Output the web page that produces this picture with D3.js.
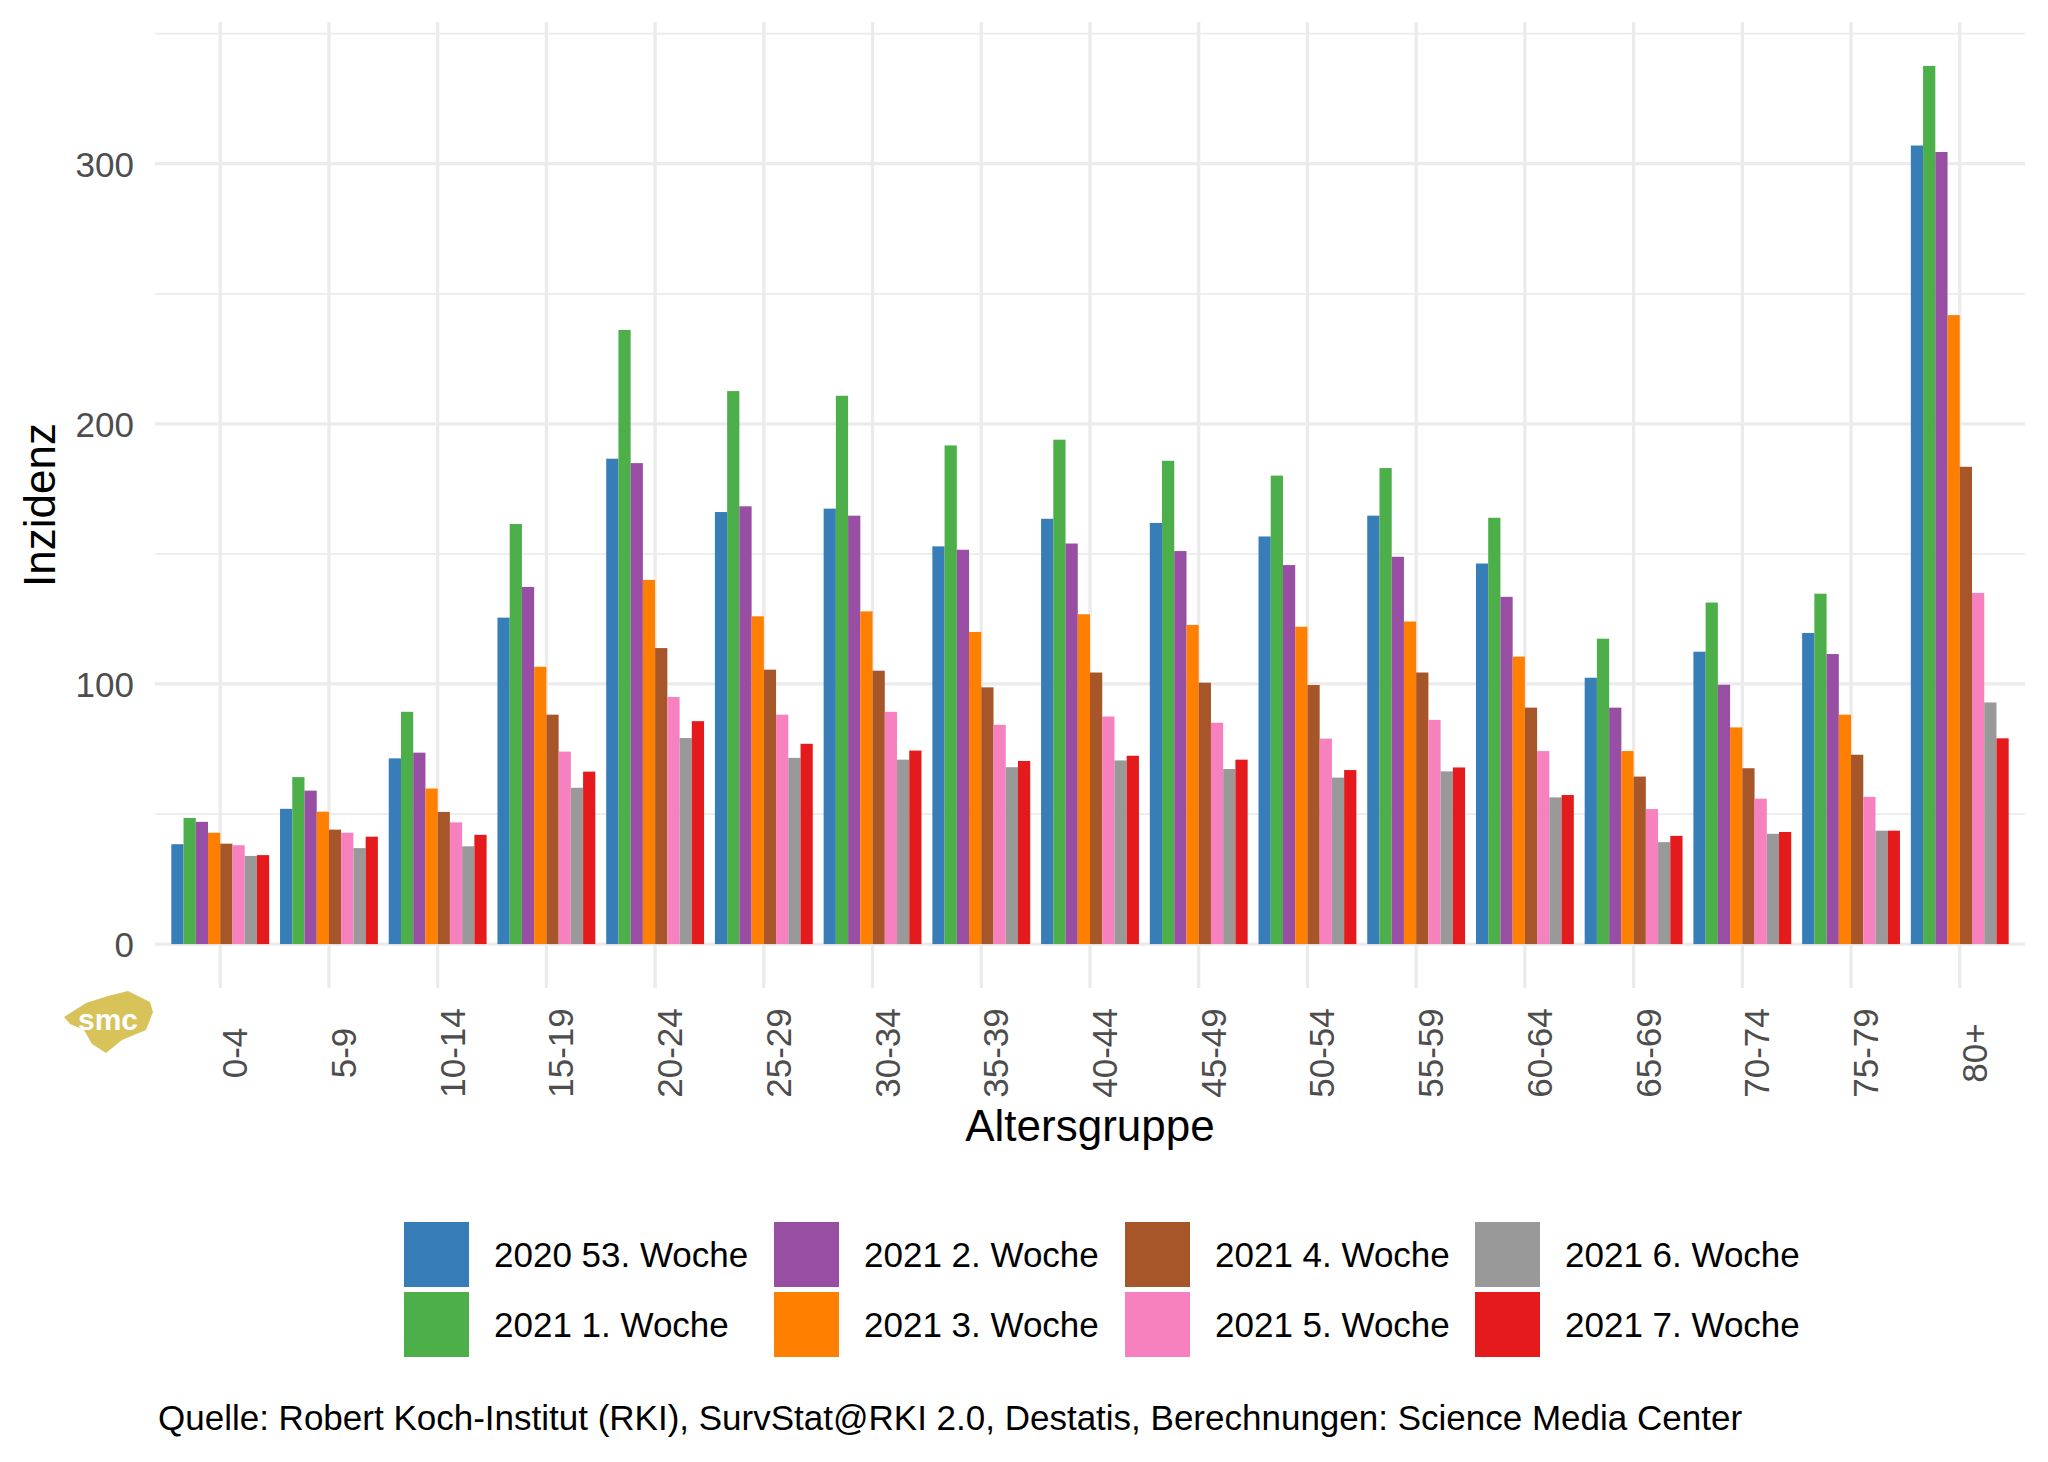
<!DOCTYPE html>
<html>
<head>
<meta charset="utf-8">
<title>Inzidenz nach Altersgruppe</title>
<script src="https://d3js.org/d3.v7.min.js"></script>
<style>
    body { margin: 0; background: #fff; }
    text { font-family: "Liberation Sans", Arial, Helvetica, sans-serif; }
</style>
</head>
<body>
<svg width="2048" height="1462"></svg>
<script>
// age groups (x axis)
var groups = ["0-4","5-9","10-14","15-19","20-24","25-29","30-34","35-39","40-44",
              "45-49","50-54","55-59","60-64","65-69","70-74","75-79","80+"];

var weeks = ["2020 53. Woche","2021 1. Woche","2021 2. Woche","2021 3. Woche",
             "2021 4. Woche","2021 5. Woche","2021 6. Woche","2021 7. Woche"];

var colors = ["#377EB8","#4DAF4A","#984EA3","#FF7F00","#A65628","#F781BF","#999999","#E41A1C"];

// incidence per week, one value per age group
var w2020_53 = [38.4, 52.0, 71.4, 125.5, 186.6, 166.1, 167.4, 152.9, 163.5, 161.9, 156.7, 164.7, 146.3, 102.4, 112.4, 119.6, 307.0];
var w2021_1  = [48.5, 64.2, 89.3, 161.5, 236.1, 212.6, 210.8, 191.7, 193.9, 185.8, 180.1, 183.0, 163.9, 117.4, 131.3, 134.7, 337.6];
var w2021_2  = [47.0, 59.0, 73.6, 137.3, 184.9, 168.3, 164.7, 151.6, 154.0, 151.1, 145.7, 148.9, 133.5,  90.9,  99.7, 111.5, 304.5];
var w2021_3  = [42.8, 50.9, 59.8, 106.6, 140.0, 126.0, 127.9, 120.0, 126.8, 122.7, 122.0, 124.0, 110.5,  74.2,  83.3,  88.2, 241.8];
var w2021_4  = [38.6, 44.0, 50.8,  88.2, 113.8, 105.5, 105.1,  98.7, 104.4, 100.5,  99.6, 104.4,  90.9,  64.4,  67.6,  72.8, 183.5];
var w2021_5  = [38.0, 42.8, 46.8,  74.0,  95.0,  88.2,  89.3,  84.3,  87.5,  85.1,  79.0,  86.2,  74.2,  51.9,  55.9,  56.6, 135.0];
var w2021_6  = [33.9, 36.9, 37.6,  60.1,  79.2,  71.6,  70.9,  68.0,  70.6,  67.3,  64.0,  66.4,  56.4,  39.2,  42.4,  43.6,  92.9];
var w2021_7  = [34.2, 41.3, 42.0,  66.3,  85.7,  77.0,  74.4,  70.4,  72.4,  70.9,  66.9,  67.9,  57.3,  41.6,  43.1,  43.6,  79.1];

var majorTicks = [0, 100, 200, 300];
var minorTicks = [50, 150, 250, 350];

var series = [w2020_53, w2021_1, w2021_2, w2021_3, w2021_4, w2021_5, w2021_6, w2021_7];

var svg = d3.select("svg");
svg.append("rect").attr("width", 2048).attr("height", 1462).attr("fill", "#fff");

var pLeft = 155, pRight = 2025, pTop = 22, pBottom = 988;
var grey = "#ebebeb";

var maxV = d3.max(series, function(s){ return d3.max(s); });

var x = d3.scalePoint().domain(groups).range([pLeft, pRight]).padding(0.6);
var step = x.step();
var xInner = d3.scaleBand().domain(weeks).range([-0.45 * step, 0.45 * step]);
var y = d3.scaleLinear().domain([-0.05 * maxV, 1.05 * maxV]).range([pBottom, pTop]);

// grid
var grid = svg.append("g");
grid.selectAll(".minor").data(minorTicks).enter().append("line")
    .attr("x1", pLeft).attr("x2", pRight)
    .attr("y1", function(d){ return y(d); }).attr("y2", function(d){ return y(d); })
    .attr("stroke", grey).attr("stroke-width", 1.7);
grid.selectAll(".major").data(majorTicks).enter().append("line")
    .attr("x1", pLeft).attr("x2", pRight)
    .attr("y1", function(d){ return y(d); }).attr("y2", function(d){ return y(d); })
    .attr("stroke", grey).attr("stroke-width", 3.3);
grid.selectAll(".vert").data(groups).enter().append("line")
    .attr("x1", function(d){ return x(d); }).attr("x2", function(d){ return x(d); })
    .attr("y1", pTop).attr("y2", pBottom)
    .attr("stroke", grey).attr("stroke-width", 3.3);

// bars
var rows = [];
series.forEach(function(s, si){
    s.forEach(function(v, gi){
        rows.push({group: groups[gi], week: weeks[si], value: v, color: colors[si]});
    });
});

svg.append("g").selectAll("rect").data(rows).enter().append("rect")
    .attr("x", function(d){ return x(d.group) + xInner(d.week); })
    .attr("width", xInner.bandwidth())
    .attr("y", function(d){ return y(d.value); })
    .attr("height", function(d){ return y(0) - y(d.value); })
    .attr("fill", function(d){ return d.color; });

// y axis
var yAxis = svg.append("g")
    .attr("transform", "translate(" + pLeft + ",0)")
    .call(d3.axisLeft(y).tickValues(majorTicks).tickSize(0).tickPadding(21));
yAxis.select(".domain").remove();
yAxis.selectAll("text")
    .attr("dy", "0.36em")
    .style("font-size", "35px")
    .style("font-family", "'Liberation Sans', Arial, sans-serif")
    .attr("fill", "#4d4d4d");

// x labels, rotated
svg.append("g").selectAll("text").data(groups).enter().append("text")
    .attr("transform", function(d){ return "translate(" + (x(d) + 27) + ",1053) rotate(-90)"; })
    .attr("text-anchor", "middle")
    .attr("fill", "#4d4d4d")
    .style("font-size", "35px")
    .text(function(d){ return d; });

// axis titles
svg.append("text")
    .attr("x", (pLeft + pRight) / 2).attr("y", 1141)
    .attr("text-anchor", "middle")
    .style("font-size", "44px")
    .text("Altersgruppe");

svg.append("text")
    .attr("transform", "translate(55," + ((pTop + pBottom) / 2) + ") rotate(-90)")
    .attr("text-anchor", "middle")
    .style("font-size", "44px")
    .text("Inzidenz");

// legend
var colX = [404, 774, 1125, 1475];
var rowY = [1222, 1292];
var legend = svg.append("g").selectAll("g").data(weeks).enter().append("g")
    .attr("transform", function(d, i){
        return "translate(" + colX[Math.floor(i / 2)] + "," + rowY[i % 2] + ")";
    });
legend.append("rect")
    .attr("width", 65).attr("height", 65)
    .attr("fill", function(d, i){ return colors[i]; });
legend.append("text")
    .attr("x", 90).attr("y", 45)
    .style("font-size", "35px")
    .text(function(d){ return d; });

// caption
svg.append("text")
    .attr("x", 158).attr("y", 1430)
    .style("font-size", "35px")
    .text("Quelle: Robert Koch-Institut (RKI), SurvStat@RKI 2.0, Destatis, Berechnungen: Science Media Center");

// smc logo
var logo = svg.append("g");
logo.append("polygon")
    .attr("points", "64,1017 86,1003 108,996 128,991 150,1002 153,1012 146,1030 122,1040 106,1053 92,1044 84,1030 70,1024")
    .attr("fill", "#d8c25a");
logo.append("text")
    .attr("x", 108).attr("y", 1030)
    .attr("text-anchor", "middle")
    .attr("fill", "#fff")
    .attr("font-weight", "bold")
    .style("font-size", "30px")
    .text("smc");
</script>
</body>
</html>
